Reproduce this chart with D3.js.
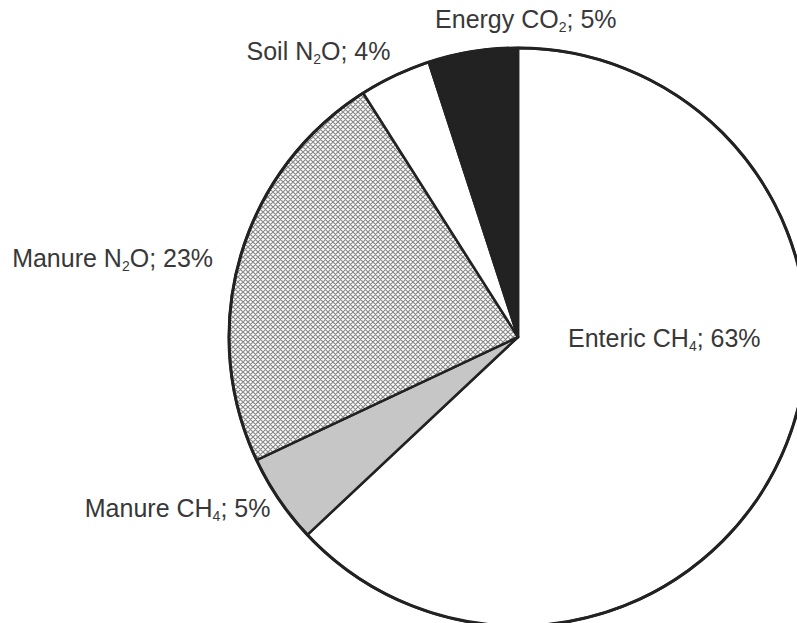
<!DOCTYPE html>
<html><head><meta charset="utf-8">
<script src="https://cdn.jsdelivr.net/npm/d3@7"></script>
<style>
body{margin:0;background:#fff;}
svg{display:block;}
text{font-family:"Liberation Sans",Arial,sans-serif;font-size:25px;fill:#383838;}
</style></head>
<body><svg id="c" width="797" height="623"></svg>
<script>
// Data
const categories = ["Enteric CH4", "Manure CH4", "Manure N2O", "Soil N2O", "Energy CO2"];
const labelMain = ["Enteric CH", "Manure CH", "Manure N", "Soil N", "Energy CO"];
const labelSub = ["4", "4", "2", "2", "2"];
const labelTail = ["", "", "O", "O", ""];
const values = [63, 5, 23, 4, 5];

const svg = d3.select("#c");
const cx = 518, cy = 337, R = 289;

const defs = svg.append("defs");
const pat = defs.append("pattern").attr("id","hatch").attr("patternUnits","userSpaceOnUse")
  .attr("width",5).attr("height",5);
pat.append("rect").attr("width",5).attr("height",5).attr("fill","#fff");
pat.append("path").attr("d","M0,0L5,5M5,0L0,5M-1,4L1,6M4,-1L6,1M-1,1L1,-1M4,6L6,4")
  .attr("stroke","#8a8a8a").attr("stroke-width",1.2);

const fills = ["#ffffff", "#c6c6c6", "url(#hatch)", "#ffffff", "#222222"];

const pie = d3.pie().sort(null).value(d => d)(values);
const arc = d3.arc().innerRadius(0).outerRadius(R);

const g = svg.append("g").attr("transform", `translate(${cx},${cy})`);
g.selectAll("path.slice").data(pie).join("path").attr("class","slice")
  .attr("d", arc).attr("fill", (d,i)=>fills[i])
  .attr("stroke","#222").attr("stroke-width",2.5).attr("stroke-linejoin","round");
g.append("circle").attr("r",R).attr("fill","none").attr("stroke","#222").attr("stroke-width",3);

// label layout: radius factor, anchor, offsets
const labelLayout = [
  {r:0, anchor:"start", dx:50, dy:9.5},
  {r:1.04, anchor:"end", dx:1, dy:11},
  {r:1.07, anchor:"end", dx:-8, dy:16},
  {r:1.02, anchor:"end", dx:-2, dy:-10},
  {r:1.0, anchor:"middle", dx:53, dy:-24}
];

pie.forEach((d,i) => {
  const L = labelLayout[i];
  const a = (d.startAngle + d.endAngle)/2;
  const x = Math.sin(a)*R*L.r + L.dx;
  const y = -Math.cos(a)*R*L.r + L.dy;
  const t = g.append("text").attr("x",x).attr("y",y).attr("text-anchor",L.anchor);
  t.append("tspan").text(labelMain[i]);
  t.append("tspan").attr("font-size","14px").attr("dy",4).text(labelSub[i]);
  t.append("tspan").attr("dy",-4).text(labelTail[i] + "; " + values[i] + "%");
});
</script></body></html>
